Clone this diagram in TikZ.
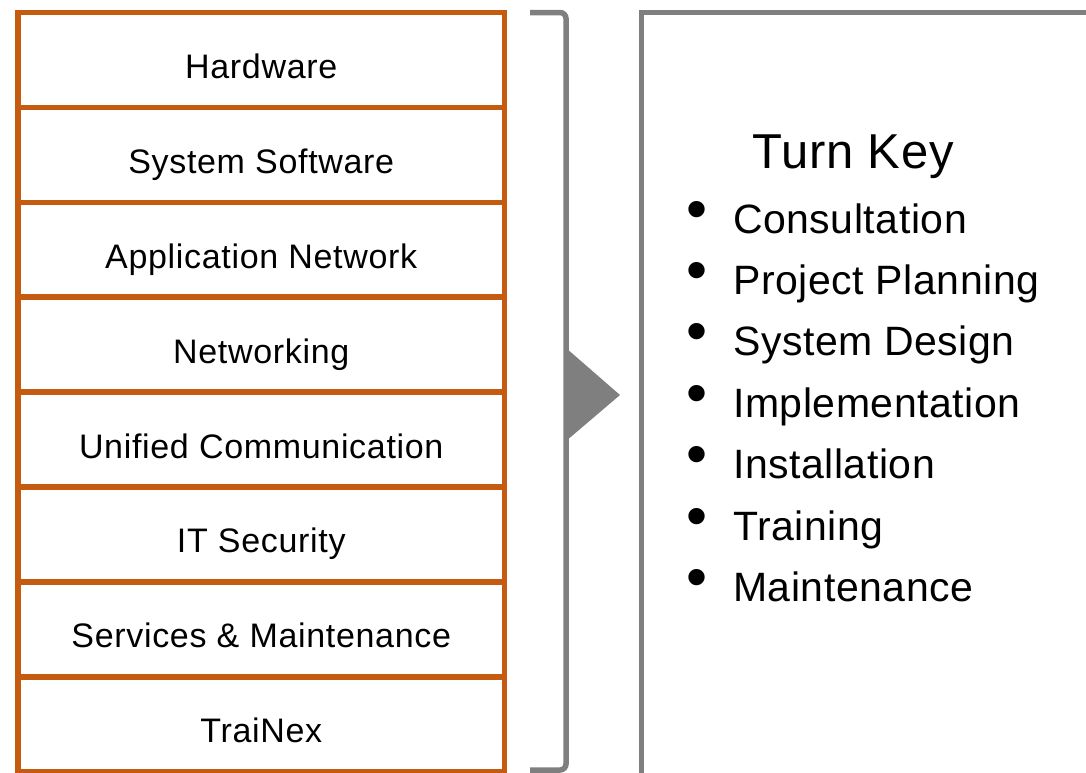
\documentclass[tikz,border=0pt]{standalone}
\usepackage{fontspec}
\setmainfont{Liberation Sans}
\usetikzlibrary{positioning}
\definecolor{stackorange}{HTML}{C55A11}
\definecolor{keygray}{HTML}{7F7F7F}

\begin{document}
\begin{tikzpicture}[x=1pt, y=-1pt,
  layer/.style={draw=stackorange, line width=5.5pt, minimum width=486.5pt, minimum height=94.9pt,
    inner sep=0, outer sep=0, text height=37pt, text depth=0pt,
    font=\fontsize{34}{34}\selectfont\addfontfeature{LetterSpace=2}},
  item/.style={anchor=base west, inner sep=0, font=\fontsize{41}{41}\selectfont\addfontfeature{LetterSpace=1.3}},
  dot/.style={anchor=base, inner sep=0, font=\fontsize{60}{60}\selectfont}]

\useasboundingbox (0,0) rectangle (1086,772);
\clip (0,0) rectangle (1086,772);

% stack of layers
\node[layer] at (261.25,59.95)(a){Hardware};
\node[layer, below=0pt of a](b){System Software};
\node[layer, below=0pt of b](c){Application Network};
\node[layer, below=0pt of c](d){Networking};
\node[layer, below=0pt of d](e){Unified Communication};
\node[layer, below=0pt of e](f){IT Security};
\node[layer, below=0pt of f](g){Services \& Maintenance};
\node[layer, below=0pt of g](h){TraiNex};

% brace and arrow
\draw[keygray, line width=5.5pt, rounded corners=6pt] (530,12.5) -- (566,12.5) -- (566,770) -- (530,770);
\fill[keygray] (566,348) -- (620,395) -- (566,441) -- cycle;

% turn key panel
\draw[keygray, line width=5.5pt] (641.5,12.5) rectangle (1120,800);
\node[anchor=base west, inner sep=0, font=\fontsize{49}{49}\selectfont\addfontfeature{LetterSpace=1.5}] at (752,168)(t){Turn Key};

\node[dot] at (697,229)(d1){\textbullet};
\node[item] at (733,233)(i1){Consultation};
\node[dot] at (697,290.45)(d2){\textbullet};
\node[item] at (733,294.45)(i2){Project Planning};
\node[dot] at (697,351.9)(d3){\textbullet};
\node[item] at (733,355.9)(i3){System Design};
\node[dot] at (697,413.35)(d4){\textbullet};
\node[item] at (733,417.35)(i4){Implementation};
\node[dot] at (697,474.8)(d5){\textbullet};
\node[item] at (733,478.8)(i5){Installation};
\node[dot] at (697,536.25)(d6){\textbullet};
\node[item] at (733,540.25)(i6){Training};
\node[dot] at (697,597.7)(d7){\textbullet};
\node[item] at (733,601.7)(i7){Maintenance};

\end{tikzpicture}
\end{document}
